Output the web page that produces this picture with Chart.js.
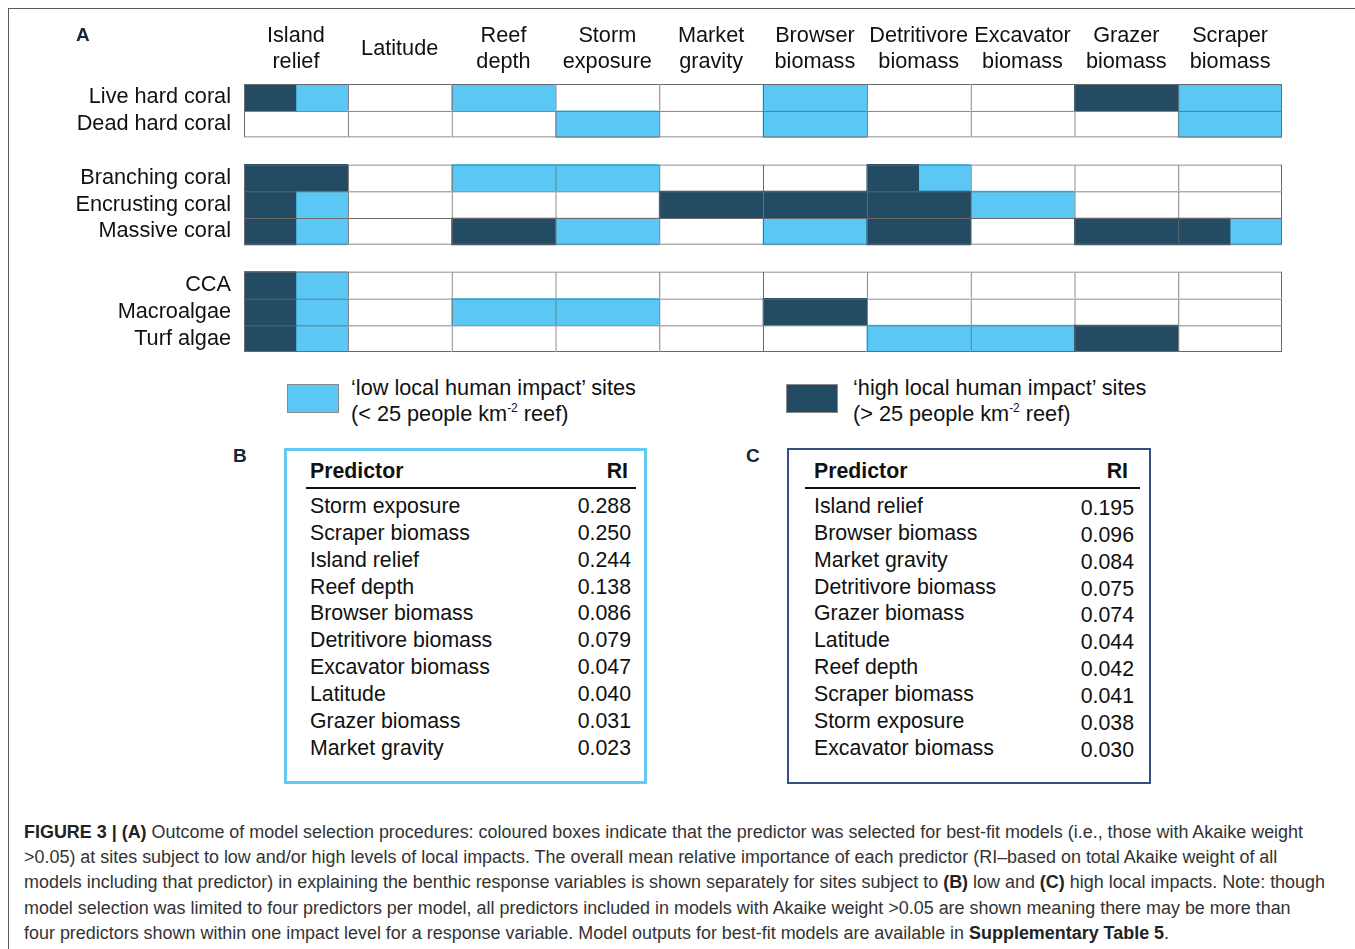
<!DOCTYPE html>
<html><head><meta charset="utf-8">
<script src="https://cdn.jsdelivr.net/npm/chart.js@4.4.1/dist/chart.umd.min.js"></script>
<style>
html,body{margin:0;padding:0;background:#fff;}
body{width:1355px;height:949px;position:relative;overflow:hidden;font-family:'Liberation Sans',Arial,sans-serif;color:#111;}
#frame{position:absolute;left:8px;top:8px;width:1400px;height:1000px;border-top:1.5px solid #5a5a5a;border-left:1.5px solid #5a5a5a;}
#chartWrap{position:absolute;left:0;top:0;width:1355px;height:360px;}
.panel{position:absolute;font-weight:bold;font-size:19px;color:#15263a;line-height:20px;}
.legBox{position:absolute;box-sizing:border-box;width:52px;height:29px;border:1px solid #8a8a8a;}
.legText{position:absolute;font-size:21.7px;line-height:26px;color:#111;white-space:nowrap;}
.legText sup{font-size:12px;vertical-align:9px;line-height:0;}
.tbox{position:absolute;box-sizing:border-box;}
.tt{position:absolute;font-size:21.3px;line-height:26px;white-space:nowrap;color:#111;}
.rule{position:absolute;height:2px;background:#111;}
#caption{position:absolute;left:24px;top:820px;font-size:18px;line-height:25.2px;color:#333;white-space:nowrap;transform-origin:0 0;}
#caption b{color:#222;}
</style>
</head><body>
<div id="frame"></div>
<div id="chartWrap"><canvas id="c"></canvas></div>
<div class="panel" style="left:76px;top:25px;">A</div>
<div class="panel" style="left:233px;top:446px;">B</div>
<div class="panel" style="left:746px;top:446px;">C</div>
<div id="legend"></div>
<div id="tables"></div>
<div id="caption">
<div><b>FIGURE 3 | (A)</b> Outcome of model selection procedures: coloured boxes indicate that the predictor was selected for best-fit models (i.e., those with Akaike weight</div>
<div>&gt;0.05) at sites subject to low and/or high levels of local impacts. The overall mean relative importance of each predictor (RI–based on total Akaike weight of all</div>
<div>models including that predictor) in explaining the benthic response variables is shown separately for sites subject to <b>(B)</b> low and <b>(C)</b> high local impacts. Note: though</div>
<div>model selection was limited to four predictors per model, all predictors included in models with Akaike weight &gt;0.05 are shown meaning there may be more than</div>
<div>four predictors shown within one impact level for a response variable. Model outputs for best-fit models are available in <b>Supplementary Table 5</b>.</div>
</div>
<script>
// ---- Data ----
const predictors = ['Island relief','Latitude','Reef depth','Storm exposure','Market gravity','Browser biomass','Detritivore biomass','Excavator biomass','Grazer biomass','Scraper biomass'];
const rowLabels = ['Live hard coral','Dead hard coral','','Branching coral','Encrusting coral','Massive coral',' ','CCA','Macroalgae','Turf algae'];
// 1 = predictor selected in best-fit models (order follows non-blank rowLabels)
const highImpact = [
  [1,0,0,0,0,0,0,0,1,0], // Live hard coral
  [0,0,0,0,0,0,0,0,0,0], // Dead hard coral
  [1,0,0,0,0,0,1,0,0,0], // Branching coral
  [1,0,0,0,1,1,1,0,0,0], // Encrusting coral
  [1,0,1,0,0,0,1,0,1,1], // Massive coral
  [1,0,0,0,0,0,0,0,0,0], // CCA
  [1,0,0,0,0,1,0,0,0,0], // Macroalgae
  [1,0,0,0,0,0,0,0,1,0]  // Turf algae
];
const lowImpact = [
  [1,0,1,0,0,1,0,0,0,1],
  [0,0,0,1,0,1,0,0,0,1],
  [0,0,1,1,0,0,1,0,0,0],
  [1,0,0,0,0,0,0,1,0,0],
  [1,0,0,1,0,1,0,0,0,1],
  [1,0,0,0,0,0,0,0,0,0],
  [1,0,1,1,0,0,0,0,0,0],
  [1,0,0,0,0,0,1,1,0,0]
];
const tableBNames = ['Storm exposure','Scraper biomass','Island relief','Reef depth','Browser biomass','Detritivore biomass','Excavator biomass','Latitude','Grazer biomass','Market gravity'];
const tableBRI = ['0.288','0.250','0.244','0.138','0.086','0.079','0.047','0.040','0.031','0.023'];
const tableCNames = ['Island relief','Browser biomass','Market gravity','Detritivore biomass','Grazer biomass','Latitude','Reef depth','Scraper biomass','Storm exposure','Excavator biomass'];
const tableCRI = ['0.195','0.096','0.084','0.075','0.074','0.044','0.042','0.041','0.038','0.030'];
const legendLow = '‘low local human impact’ sites';
const legendHigh = '‘high local human impact’ sites';

const DARK = '#234c64';
const LIGHT = '#5bc7f5';
const FONT = '"Liberation Sans", Arial, sans-serif';

// ---- Build bar data ----
const dataRows = [];
rowLabels.forEach((l, i) => { if (l.trim() !== '') dataRows.push(i); });
const groupEnds = new Set();
dataRows.forEach((ri, k) => { if (k === dataRows.length - 1 || dataRows[k + 1] !== ri + 1) groupEnds.add(ri); });

const highBars = [], lowBars = [], gridCells = [];
dataRows.forEach((ri, k) => {
  const y = rowLabels[ri];
  predictors.forEach((p, c) => {
    const h = highImpact[k][c], lo = lowImpact[k][c];
    if (h && lo) { highBars.push({x:[c, c + 0.5], y}); lowBars.push({x:[c + 0.5, c + 1], y}); }
    else if (h) highBars.push({x:[c, c + 1], y});
    else if (lo) lowBars.push({x:[c, c + 1], y});
    gridCells.push({x:[c, c + 1], y, lastCol: c === predictors.length - 1, lastRow: groupEnds.has(ri)});
  });
});

const headerPlugin = {
  id: 'headers',
  afterDraw(chart) {
    const {ctx, chartArea, scales:{x}} = chart;
    ctx.save();
    ctx.font = '21.7px ' + FONT;
    ctx.fillStyle = '#111'; ctx.textAlign = 'center'; ctx.textBaseline = 'middle';
    predictors.forEach((p, i) => {
      const lines = p.split(' ');
      const cx = x.getPixelForValue(i + 0.5);
      if (lines.length === 1) ctx.fillText(lines[0], cx, chartArea.top - 35);
      else lines.forEach((l, j) => ctx.fillText(l, cx, chartArea.top - 48 + 26 * j));
    });
    ctx.restore();
  }
};

new Chart(document.getElementById('c'), {
  type: 'bar',
  data: {
    labels: rowLabels,
    datasets: [
      { label: 'grid', data: gridCells, backgroundColor: 'rgba(0,0,0,0)', borderColor: '#6a6a6a', inflateAmount: 0,
        borderWidth: (ctx) => { const r = ctx.raw || {}; return {left:1, top:1, right: r.lastCol ? 1 : 0, bottom: r.lastRow ? 1 : 0}; } },
      { label: 'high', data: highBars, backgroundColor: DARK, borderWidth: 0 },
      { label: 'low', data: lowBars, backgroundColor: LIGHT, borderWidth: 0 }
    ]
  },
  options: {
    indexAxis: 'y',
    responsive: true, maintainAspectRatio: false, animation: false,
    layout: { padding: { top: 84, right: 73, bottom: 8, left: 0 } },
    datasets: { bar: { barPercentage: 1, categoryPercentage: 1, grouped: false, borderSkipped: false } },
    plugins: { legend: { display: false }, tooltip: { enabled: false } },
    scales: {
      x: { type: 'linear', min: 0, max: predictors.length, display: false },
      y: { type: 'category', offset: true,
           grid: { display: false, drawTicks: false }, border: { display: false },
           ticks: { autoSkip: false, padding: 13, color: '#111', font: { family: FONT, size: 21.7 } },
           afterFit: (s) => { s.width = 244; s.paddingTop = 0; s.paddingBottom = 0; } }
    }
  },
  plugins: [headerPlugin]
});

// ---- Legend ----
const leg = document.getElementById('legend');
[[287, LIGHT, legendLow, '(&lt; 25 people km<sup>-2</sup> reef)', 351],
 [786, DARK, legendHigh, '(&gt; 25 people km<sup>-2</sup> reef)', 853]].forEach(([bx, col, t1, t2, tx]) => {
  leg.insertAdjacentHTML('beforeend',
    `<div class="legBox" style="left:${bx}px;top:384px;background:${col};"></div>` +
    `<div class="legText" style="left:${tx}px;top:375px;">${t1}</div>` +
    `<div class="legText" style="left:${tx}px;top:401px;">${t2}</div>`);
});

// ---- Tables ----
function buildTable(names, vals, o) {
  const T = document.getElementById('tables');
  let h = `<div class="tbox" style="left:${o.l}px;top:448px;width:${o.w}px;height:336px;border:${o.bw}px solid ${o.bc};"></div>`;
  h += `<div class="tt" style="left:${o.nameX}px;top:458px;font-weight:bold;">Predictor</div>`;
  h += `<div class="tt" style="left:${o.riR - 60}px;width:60px;text-align:right;top:458px;font-weight:bold;">RI</div>`;
  h += `<div class="rule" style="left:${o.ruleL}px;width:${o.ruleR - o.ruleL}px;top:487px;"></div>`;
  names.forEach((n, i) => {
    const cy = 506 + i * 26.85;
    h += `<div class="tt" style="left:${o.nameX}px;top:${cy - 13}px;">${n}</div>`;
    h += `<div class="tt" style="left:${o.valR - 80}px;width:80px;text-align:right;top:${cy - 13 + o.vOff}px;">${vals[i]}</div>`;
  });
  T.insertAdjacentHTML('beforeend', h);
}
buildTable(tableBNames, tableBRI, {l:284, w:363, bw:3, bc:'#62c9f4', nameX:310, valR:631, riR:628, ruleL:306, ruleR:636, vOff:0});
buildTable(tableCNames, tableCRI, {l:787, w:364, bw:2.5, bc:'#34507e', nameX:814, valR:1134, riR:1128, ruleL:805, ruleR:1140, vOff:2});

// ---- Caption fit ----
const cap = document.getElementById('caption');
const w1 = cap.firstElementChild.getBoundingClientRect().width;
cap.style.transform = `scaleX(${1301 / w1})`;
</script>
</body></html>
